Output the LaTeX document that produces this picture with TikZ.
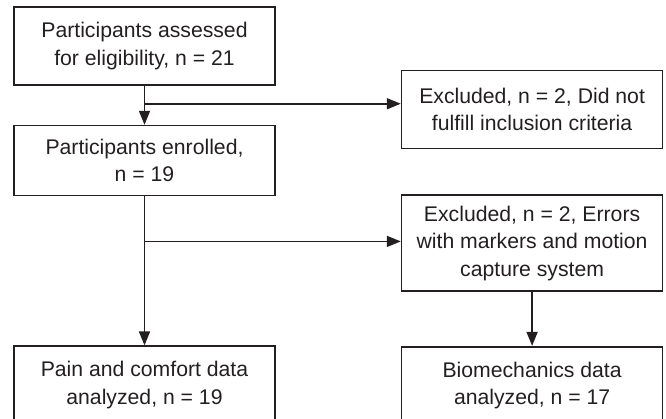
\documentclass[tikz,border=0pt]{standalone}
\usepackage{fontspec}
\setmainfont{Liberation Sans}
\usetikzlibrary{positioning,arrows.meta,calc}

\begin{document}
\begin{tikzpicture}[x=1pt,y=1pt,node distance=40pt,
        line width=1.6pt,color={rgb,255:red,35;green,31;blue,32},
        box/.style={rectangle,draw,minimum width=261pt,minimum height=78pt,
            inner sep=0pt,align=center,font=\fontsize{21.2}{27.5}\selectfont},
        arr/.style={-{Triangle[length=14pt,width=11pt]}}]

    \useasboundingbox (0,0) rectangle (666,-419);

    \node[box] (assess) at (144.5,-46) {Participants assessed\\for eligibility, n = 21};
    \node[box,minimum height=70pt] (enrolled) [below=39pt of assess] {Participants enrolled,\\n = 19};
    \node[box] (excl1) [right=125pt of assess,yshift=-63.5pt] {Excluded, n = 2, Did not\\fulfill inclusion criteria};
    \node[box,minimum height=96pt] (excl2) [below=45pt of excl1] {Excluded, n = 2, Errors\\with markers and motion\\capture system};
    \node[box] (pain) [below=149pt of enrolled] {Pain and comfort data\\analyzed, n = 19};
    \node[box] (bio) [below=54pt of excl2] {Biomechanics data\\analyzed, n = 17};

    \coordinate (b1) at ($(assess.south)!0.46!(enrolled.north)$);
    \coordinate (b2) at ([yshift=-45pt]enrolled.south);

    \draw[arr] (assess) -- (enrolled);
    \draw[arr] (b1) -- (excl1.west |- b1);
    \draw[arr] (enrolled) -- (pain);
    \draw[arr] (b2) -- (excl2.west |- b2);
    \draw[arr] (excl2) -- (bio);
\end{tikzpicture}
\end{document}
